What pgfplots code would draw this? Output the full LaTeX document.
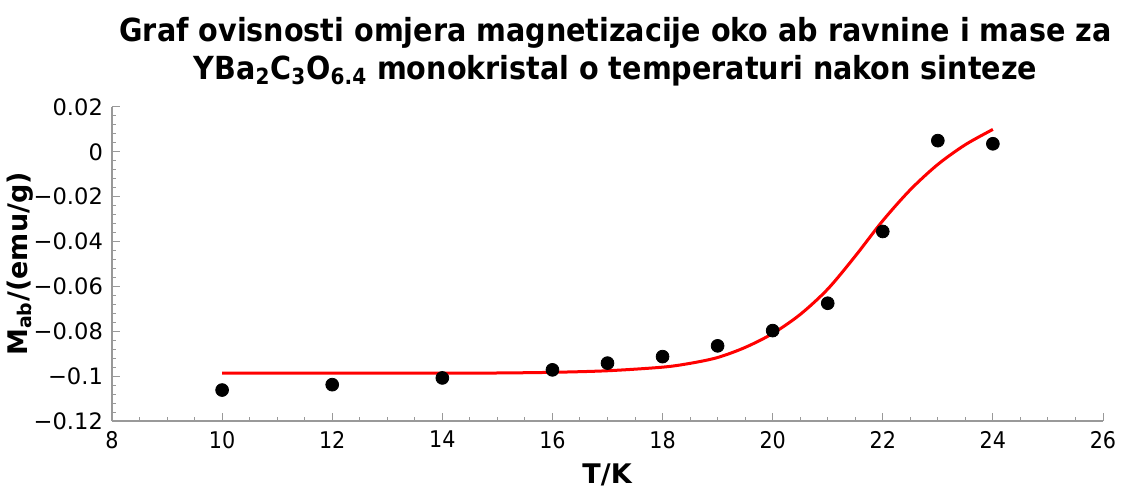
\documentclass[border=0pt]{standalone}
\usepackage{pgfplots}
\pgfplotsset{compat=1.18}
\usepackage{fontspec}
\setmainfont{DejaVu Sans}
\newfontfamily\condfont{DejaVu Sans Condensed}
\begin{document}
\begin{tikzpicture}
\begin{axis}[
  scale only axis,
  width=495.5pt, height=157pt,
  xmin=8, xmax=26, ymin=-0.12, ymax=0.02,
  axis lines=left,
  axis line style={draw=gray!80, line width=0.6pt, -},
  xtick={8,10,...,26},
  ytick={-0.12,-0.1,-0.08,-0.06,-0.04,-0.02,0,0.02},
  yticklabels={{\char"2212 0.12},{\char"2212 0.1},{\char"2212 0.08},{\char"2212 0.06},{\char"2212 0.04},{\char"2212 0.02},0,0.02},
  xticklabels={8,10,12,14,16,18,20,22,24,26},
  minor x tick num=3,
  minor y tick num=4,
  tick align=inside,
  major tick length=4pt,
  minor tick length=2pt,
  tick style={draw=gray!80, line width=0.5pt},
  x tick label style={font=\condfont\fontsize{11.5}{12}\selectfont, yshift=-1.5pt},
  y tick label style={font=\fontsize{11.3}{12}\selectfont, xshift=-1pt},
  xlabel={\textbf{T/K}},
  ylabel={\textbf{M\textsubscript{ab}/(emu/g)}},
  xlabel style={font=\fontsize{13.5}{14}\selectfont, yshift=-1pt},
  ylabel style={font=\fontsize{13.5}{14}\selectfont, yshift=-6.5pt},
  title={Graf ovisnosti omjera magnetizacije oko ab ravnine i mase za\\YBa\textsubscript{2}C\textsubscript{3}O\textsubscript{6.4} monokristal o temperaturi nakon sinteze},
  title style={font=\condfont\bfseries\fontsize{15.9}{19}\selectfont, align=center, yshift=1pt, xshift=4pt},
  clip=false,
]
\addplot[red, line width=1.5pt, smooth] coordinates {
(10,-0.0987) (12,-0.0987) (14,-0.0987) (15,-0.0986) (16,-0.0983) (17,-0.0976)
(18,-0.0960) (18.5,-0.0943) (19,-0.0917) (19.5,-0.0872) (20,-0.0810)
(20.5,-0.0725) (21,-0.0612) (21.5,-0.0465) (22,-0.0307) (22.5,-0.0169)
(23,-0.0056) (23.5,0.0032) (24,0.0100)
};
\addplot[only marks, mark=*, mark size=3.2pt, black] coordinates {
(10,-0.1062) (12,-0.1038) (14,-0.1008) (16,-0.0972) (17,-0.0942) (18,-0.0913)
(19,-0.0865) (20,-0.0797) (21,-0.0675) (22,-0.0355) (23,0.0050) (24,0.0036)
};
\end{axis}
\pgfresetboundingbox
\path (-56pt,-35pt) rectangle (504.5pt,210.5pt);
\end{tikzpicture}
\end{document}
